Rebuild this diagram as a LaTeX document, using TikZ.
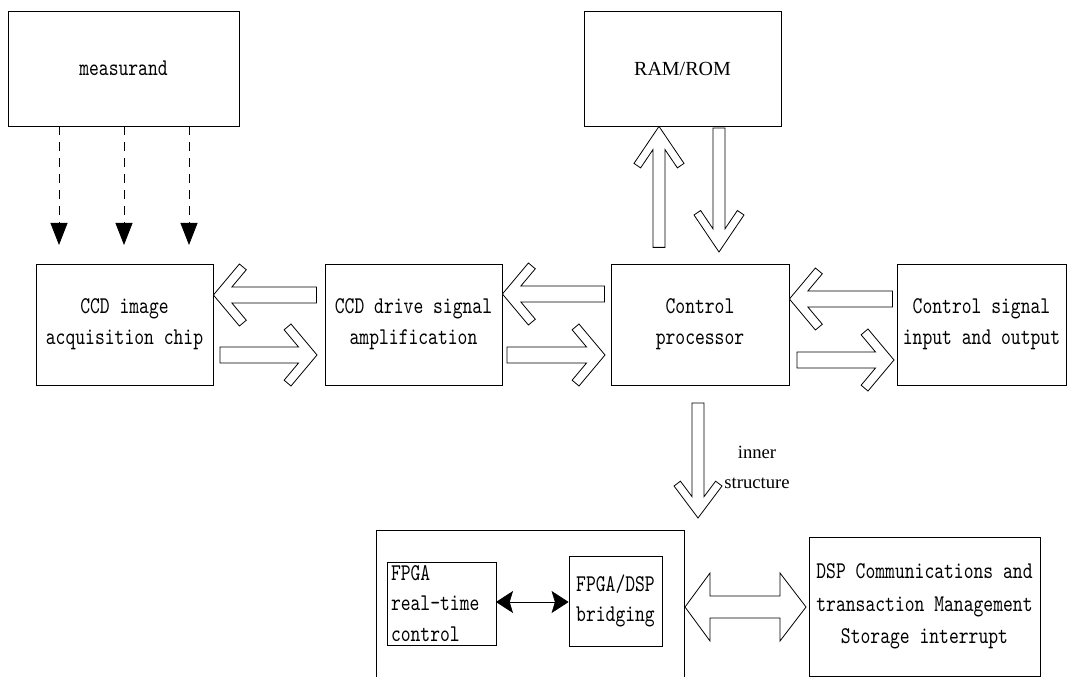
\documentclass[tikz,border=0pt]{standalone}
\usepackage{fontspec}
\newfontfamily\cnmono[FakeStretch=0.78]{lmmono10-regular.otf}
\newfontfamily\tmsf{Liberation Serif}
\usetikzlibrary{arrows.meta,calc}
\def\pxu{0.75pt}
% hollow arrow: #1 tip, #2 angle, #3 length, #4 shaft half width, #5 head half width, #6 head depth, #7 chevron thickness
\newcommand\harrow[7]{%
  \pgfmathsetmacro\hn{sqrt((#6)*(#6)+(#5)*(#5))}%
  \pgfmathsetmacro\hox{-(#6)-(#7)*(#5)/\hn}%
  \pgfmathsetmacro\hoy{(#5)-(#7)*(#6)/\hn}%
  \pgfmathsetmacro\hix{\hox+(\hoy-(#4))*(#6)/(#5)}%
  \begin{scope}[shift={#1},rotate=#2]
    \draw[hollow] (-#3,#4) -- (\hix,#4) -- (\hox,\hoy) -- (-#6,#5) -- (0,0)
      -- (-#6,-#5) -- (\hox,-\hoy) -- (\hix,-#4) -- (-#3,-#4) -- cycle;
  \end{scope}}
\tikzset{
  box/.style={draw, line width=0.6pt, inner sep=0pt, align=center,
    font=\cnmono\fontsize{18}{23}\selectfont},
  hollow/.style={draw, line width=0.6pt, fill=white, line join=miter},
  dasharrow/.style={line width=0.6pt, dash pattern=on 6.75pt off 5.25pt,
    -{Triangle[length=16.5pt,width=12.75pt]}},
  smallarrow/.style={line width=0.6pt,
    {Stealth[length=12.75pt,width=16.5pt,inset=2.5pt]}-{Stealth[length=12.75pt,width=16.5pt,inset=2.5pt]}},
}
\begin{document}
\begin{tikzpicture}[x=0.75pt,y=-0.75pt]
\useasboundingbox (0,0) rectangle (1067,677);

% nodes
\node[box, minimum width=231*\pxu, minimum height=115*\pxu] (meas) at (123.5,68.5) {measurand};
\node[box, minimum width=197*\pxu, minimum height=115*\pxu, font=\tmsf\fontsize{15}{18}\selectfont] (ram) at (682.5,68.5) {RAM/ROM};
\node[box, minimum width=177*\pxu, minimum height=121*\pxu] (ccdimg) at (124.5,324.5) {CCD image\\acquisition chip};
\node[box, minimum width=177*\pxu, minimum height=121*\pxu] (ccddrv) at (413.5,324.5) {CCD drive signal\\amplification};
\node[box, minimum width=178*\pxu, minimum height=121*\pxu] (ctrl) at (700,324.5) {Control\\processor};
\node[box, minimum width=169*\pxu, minimum height=121*\pxu] (csig) at (981.5,324.5) {Control signal\\input and output};
\node[minimum width=307*\pxu, minimum height=146*\pxu, inner sep=0pt] (inner) at (530.5,604) {};
\node[box, minimum width=109*\pxu, minimum height=83*\pxu, text width=101*\pxu, inner xsep=4*\pxu, align=left] (fpga) at (441.5,603.5) {FPGA\\real-time\\control};
\node[box, minimum width=93*\pxu, minimum height=90*\pxu] (bridge) at (615.5,601) {FPGA/DSP\\bridging};
\node[box, minimum width=231*\pxu, minimum height=139*\pxu, font=\cnmono\fontsize{18}{24.4}\selectfont] (dsp) at (924.5,606.5) {DSP Communications and\\transaction Management\\Storage interrupt};
\node[align=center, font=\tmsf\fontsize{14}{22.5}\selectfont, inner sep=0pt] (lbl) at (757,467) {inner\\structure};

% open-bottom inner box
\draw[line width=0.6pt] (inner.south west) |- (inner.north east) -- (inner.south east);

% dashed arrows from measurand
\coordinate (d1) at (59,245);
\coordinate (d2) at (124,245);
\coordinate (d3) at (189,245);
\draw[dasharrow] (meas.south -| d1) -- (d1);
\draw[dasharrow] (meas.south -| d2) -- (d2);
\draw[dasharrow] (meas.south -| d3) -- (d3);

% hollow arrows in the main row
\harrow{(ccdimg.east |- 0,295)}{180}{103}{8}{31}{26}{9}
\harrow{(317,355)}{0}{97}{8}{31}{26}{9}
\harrow{(ccddrv.east |- 0,294)}{180}{102}{8}{31}{26}{9}
\harrow{(605,355)}{0}{98}{8}{31}{26}{9}
\harrow{(ctrl.east |- 0,299)}{180}{103}{8}{31}{26}{9}
\harrow{(894,360)}{0}{97}{8}{31}{26}{9}

% RAM/ROM arrows
\harrow{(ram.south -| 659,0)}{90}{121}{6}{25}{37}{8}
\harrow{(719,252)}{-90}{124}{6}{25}{37}{8}

% inner structure arrow
\harrow{(698,518)}{-90}{115}{6}{24}{32}{8}

% FPGA <-> bridge
\coordinate (sa) at (496,602);
\draw[smallarrow] (sa) -- (sa -| bridge.west);

% double block arrow inner <-> dsp
\coordinate (bl) at (685,607);
\coordinate (br) at (806,607);
\draw[hollow] (bl) -- ++(25,-34) -- ++(0,23) -- ($(br)+(-26,-11)$) -- ++(0,-23) -- (br)
  -- ++(-26,34) -- ++(0,-23) -- ($(bl)+(25,11)$) -- ++(0,23) -- cycle;
\end{tikzpicture}
\end{document}
